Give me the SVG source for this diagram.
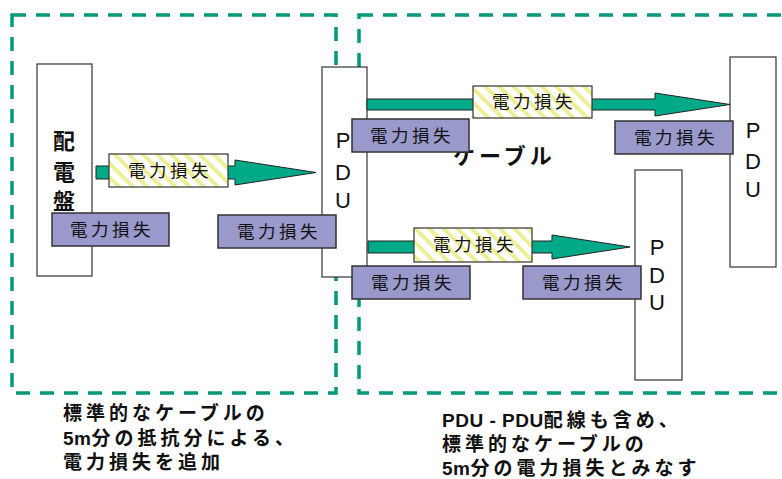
<svg xmlns="http://www.w3.org/2000/svg" width="782" height="479" viewBox="0 0 782 479">
<defs>
<pattern id="hatch" width="10" height="10" patternUnits="userSpaceOnUse" patternTransform="rotate(-45)">
<rect width="10" height="10" fill="#ffffff"/>
<rect width="4" height="10" fill="#eeee99"/>
</pattern>
</defs>
<style>
.zone{fill:none;stroke:#00997a;stroke-width:3.5;stroke-dasharray:14 10}
.dev{fill:#ffffff;stroke:#333333;stroke-width:1.2}
.arrow{fill:#00aa88;stroke:#222222;stroke-width:1}
.hat{fill:url(#hatch);stroke:#333333;stroke-width:1.2}
.loss{fill:#9999cc;stroke:#333333;stroke-width:1.5}
.t{font-family:"Liberation Sans","Noto Sans CJK JP",sans-serif;fill:#111111}
.lbl{font-size:17.5px;letter-spacing:3.5px;text-anchor:middle}
.pdu{font-size:22px;text-anchor:middle}
.bold{font-weight:bold}
.note{font-size:19px;letter-spacing:4px}
.lat{letter-spacing:0.5px}
</style>
<rect class="zone" x="12" y="15" width="324" height="378"/>
<rect class="zone" x="359" y="15" width="440" height="378"/>

<g id="switchboard">
<rect class="dev" x="37" y="64" width="55" height="212"/>
<text class="t bold" x="64" y="149" font-size="22" text-anchor="middle">配</text>
<text class="t bold" x="64" y="180" font-size="22" text-anchor="middle">電</text>
<text class="t bold" x="64" y="209" font-size="22" text-anchor="middle">盤</text>
</g>
<g id="pdu1">
<rect class="dev" x="322" y="67" width="45" height="210"/>
<text class="t pdu" x="343" y="148">P</text>
<text class="t pdu" x="343" y="180">D</text>
<text class="t pdu" x="343" y="208">U</text>
</g>
<g id="pdu2">
<rect class="dev" x="730" y="57" width="46" height="210"/>
<text class="t pdu" x="753" y="138">P</text>
<text class="t pdu" x="753" y="169">D</text>
<text class="t pdu" x="753" y="197">U</text>
</g>
<g id="pdu3">
<rect class="dev" x="635" y="170" width="47" height="210"/>
<text class="t pdu" x="657" y="255">P</text>
<text class="t pdu" x="657" y="283">D</text>
<text class="t pdu" x="657" y="310">U</text>
</g>

<text class="t bold" x="453" y="164" font-size="22" letter-spacing="4">ケーブル</text>

<g id="connectors">
<g id="arrow1">
<path class="arrow" d="M96,166 H235 V160 L316,172.5 L235,185 V179 H96 Z"/>
<rect class="hat" x="109" y="154" width="119" height="33"/>
<text class="t lbl" x="170" y="177">電力損失</text>
</g>
<g id="arrow2">
<path class="arrow" d="M367,99 H655 V93 L730,104.5 L655,116 V110 H367 Z"/>
<rect class="hat" x="473" y="86" width="119" height="32"/>
<text class="t lbl" x="534" y="108">電力損失</text>
</g>
<g id="arrow3">
<path class="arrow" d="M368,241 H552 V235 L630,247 L552,259 V253 H368 Z"/>
<rect class="hat" x="414" y="228" width="118" height="34"/>
<text class="t lbl" x="475" y="251">電力損失</text>
</g>
</g>

<g id="loss1"><rect class="loss" x="52" y="213" width="117" height="33"/><text class="t lbl" x="112" y="236">電力損失</text></g>
<g id="loss2"><rect class="loss" x="218" y="215" width="118" height="33"/><text class="t lbl" x="279" y="238">電力損失</text></g>
<g id="loss3"><rect class="loss" x="352" y="119" width="117" height="33"/><text class="t lbl" x="412" y="142">電力損失</text></g>
<g id="loss4"><rect class="loss" x="615" y="121" width="118" height="33"/><text class="t lbl" x="676" y="144">電力損失</text></g>
<g id="loss5"><rect class="loss" x="352" y="266" width="118" height="33"/><text class="t lbl" x="413" y="289">電力損失</text></g>
<g id="loss6"><rect class="loss" x="523" y="266" width="118" height="33"/><text class="t lbl" x="584" y="289">電力損失</text></g>

<g id="note-left" class="t bold note">
<text x="63" y="420">標準的なケーブルの</text>
<text x="63" y="445"><tspan class="lat">5m</tspan>分の抵抗分による、</text>
<text x="63" y="469">電力損失を追加</text>
</g>
<g id="note-right" class="t bold note">
<text x="442" y="427"><tspan class="lat">PDU - PDU</tspan>配線も含め、</text>
<text x="442" y="451">標準的なケーブルの</text>
<text x="442" y="475"><tspan class="lat">5m</tspan>分の電力損失とみなす</text>
</g>
</svg>
